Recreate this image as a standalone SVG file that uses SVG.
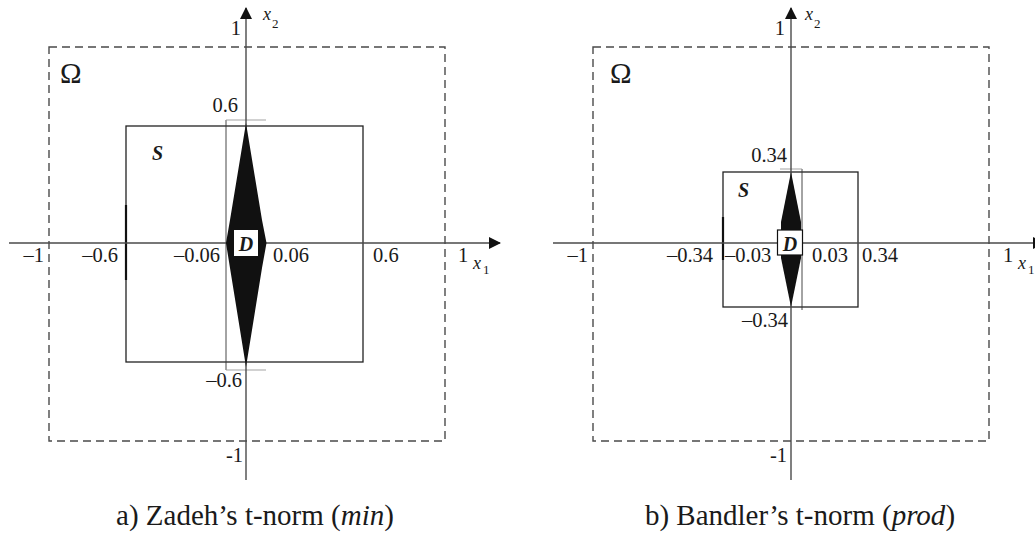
<svg xmlns="http://www.w3.org/2000/svg" width="1035" height="536" viewBox="0 0 1035 536">
<style>
text{font-family:"Liberation Serif","Times New Roman",serif;fill:#1a1a1a}
.lb{font-size:20.5px}
.it{font-style:italic}
.bi{font-style:italic;font-weight:bold;font-size:20px}
.om{font-size:29px}
.cap{font-size:29px}
.sub{font-size:13px}
.xv{font-size:18px;font-style:italic}
.axis{stroke:#4a4a4a;stroke-width:1.4;fill:none}
.dash{stroke:#4a4a4a;stroke-width:1.4;fill:none;stroke-dasharray:8 5}
.srect{stroke:#222;stroke-width:1.3;fill:none}
.thin{stroke:#333;stroke-width:0.9;fill:none}
.tick{stroke:#999;stroke-width:0.9;fill:none}
.thick{stroke:#111;stroke-width:2.2}
</style>
<defs>
<marker id="arr" viewBox="0 0 12 12" refX="11" refY="6" markerWidth="13" markerHeight="12" markerUnits="userSpaceOnUse" orient="auto">
<path d="M0,0 L12,6 L0,12 Z" fill="#111"/>
</marker>
</defs>

<!-- Panel a -->
<g id="panelA">
<g id="omegaA">
<rect class="dash" x="49" y="47" width="396" height="394"/>
<text class="om" x="60" y="83">Ω</text>
</g>
<g id="setSA">
<rect class="srect" x="126" y="126" width="237" height="236"/>
<line class="thick" x1="126" y1="205" x2="126" y2="280"/>
<text class="bi" x="152" y="160">S</text>
</g>
<g id="boundsA">
<line class="thin" x1="226" y1="120" x2="226" y2="370"/>
<line class="tick" x1="226" y1="120" x2="266" y2="120"/>
<line class="tick" x1="226" y1="370" x2="266" y2="370"/>
</g>
<g id="connectorsA">
<line class="axis" x1="9" y1="243" x2="500" y2="243" marker-end="url(#arr)"/>
<line class="axis" x1="246" y1="480" x2="246" y2="8" marker-end="url(#arr)"/>
</g>
<g id="setDA">
<polygon points="246,123 230,220 226,243 230,268 246,367 262,268 266.5,243 262,220" fill="#111"/>
<rect x="234" y="230" width="24" height="26" fill="#fff"/>
<text class="bi" x="246" y="251" text-anchor="middle">D</text>
</g>
<g id="labelsA">
<text class="lb" x="241" y="35" text-anchor="end">1</text>
<text class="xv" x="263" y="20">x</text><text class="sub" x="272" y="28">2</text>
<text class="lb" x="238" y="112" text-anchor="end">0.6</text>
<text class="lb" x="242" y="387" text-anchor="end">–0.6</text>
<text class="lb" x="243" y="462" text-anchor="end">-1</text>
<text class="lb" x="44" y="262" text-anchor="end">–1</text>
<text class="lb" x="118" y="262" text-anchor="end">–0.6</text>
<text class="lb" x="220" y="262" text-anchor="end">–0.06</text>
<text class="lb" x="273" y="262">0.06</text>
<text class="lb" x="373" y="262">0.6</text>
<text class="lb" x="458" y="262">1</text>
<text class="xv" x="473" y="269">x</text><text class="sub" x="483" y="274">1</text>
</g>
<text class="cap" x="255" y="525" text-anchor="middle">a) Zadeh’s t-norm (<tspan class="it">min</tspan>)</text>
</g>

<!-- Panel b -->
<g id="panelB">
<g id="omegaB">
<rect class="dash" x="593" y="47" width="396" height="394"/>
<text class="om" x="610" y="83">Ω</text>
</g>
<g id="setSB">
<rect class="srect" x="723" y="172" width="135" height="135"/>
<line class="thick" x1="723" y1="217" x2="723" y2="260"/>
<text class="bi" x="738" y="197">S</text>
</g>
<g id="boundsB">
<line class="thin" x1="802" y1="169" x2="802" y2="310"/>
<line class="tick" x1="780" y1="169" x2="802" y2="169"/>
</g>
<g id="connectorsB">
<line class="axis" x1="553" y1="243" x2="1044" y2="243" marker-end="url(#arr)"/>
<line class="axis" x1="791" y1="480" x2="791" y2="8" marker-end="url(#arr)"/>
</g>
<g id="setDB">
<polygon points="791,172 781,222 781,258 791,307 801,258 801,222" fill="#111"/>
<rect x="777.5" y="230" width="25" height="25" fill="#fff" stroke="#111" stroke-width="1.2"/>
<text class="bi" x="790" y="251" text-anchor="middle">D</text>
</g>
<g id="labelsB">
<text class="lb" x="785" y="35" text-anchor="end">1</text>
<text class="xv" x="805" y="20">x</text><text class="sub" x="814" y="28">2</text>
<text class="lb" x="787" y="162" text-anchor="end">0.34</text>
<text class="lb" x="788" y="327" text-anchor="end">–0.34</text>
<text class="lb" x="787" y="462" text-anchor="end">-1</text>
<text class="lb" x="588" y="262" text-anchor="end">–1</text>
<text class="lb" x="713" y="262" text-anchor="end">–0.34</text>
<text class="lb" x="725" y="262">–0.03</text>
<text class="lb" x="812" y="262">0.03</text>
<text class="lb" x="862" y="262">0.34</text>
<text class="lb" x="1003" y="262">1</text>
<text class="xv" x="1018" y="269">x</text><text class="sub" x="1028" y="274">1</text>
</g>
<text class="cap" x="800" y="525" text-anchor="middle">b) Bandler’s t-norm (<tspan class="it">prod</tspan>)</text>
</g>
</svg>
